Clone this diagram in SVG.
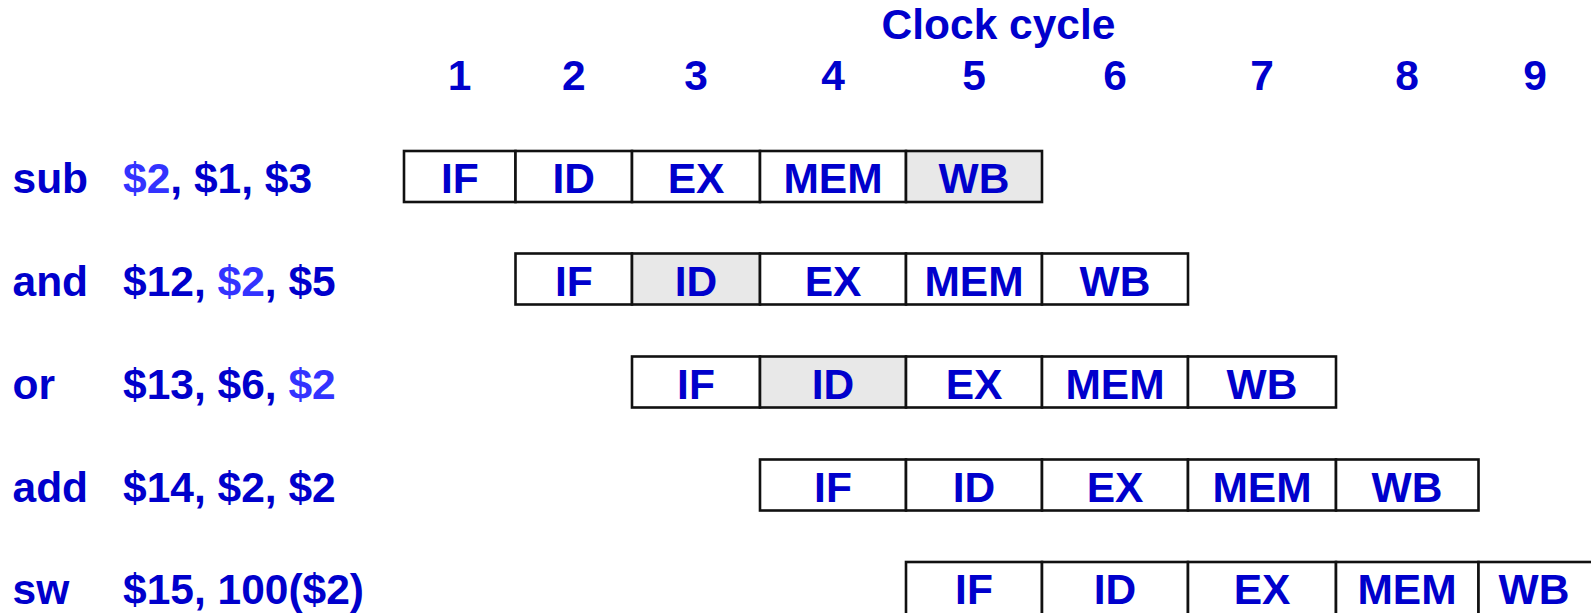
<svg xmlns="http://www.w3.org/2000/svg" width="1591" height="613" viewBox="0 0 1591 613">
  <style>
    .t { font-family: "Liberation Sans", Arial, sans-serif; font-weight: bold; font-size: 42.5px; fill: #0000CC; }
    .c { text-anchor: middle; }
    .hl { fill: #3333FF; }
    .cell { fill: #FFFFFF; stroke: #111111; stroke-width: 2.6; }
    .hot { fill: #E8E8E8; }
  </style>
  <rect width="1591" height="613" fill="#FFFFFF"/>

  <!-- header -->
  <g id="header">
    <text class="t c" x="998.5" y="38.5">Clock cycle</text>
    <text class="t c" x="459.6" y="89.5">1</text>
    <text class="t c" x="573.8" y="89.5">2</text>
    <text class="t c" x="696" y="89.5">3</text>
    <text class="t c" x="833" y="89.5">4</text>
    <text class="t c" x="974" y="89.5">5</text>
    <text class="t c" x="1115" y="89.5">6</text>
    <text class="t c" x="1262" y="89.5">7</text>
    <text class="t c" x="1407" y="89.5">8</text>
    <text class="t c" x="1535" y="89.5">9</text>
  </g>

  <!-- instruction labels -->
  <g id="labels">
    <text class="t" x="12.5" y="193">sub</text>
    <text class="t" x="123" y="193"><tspan class="hl">$2</tspan>, $1, $3</text>
    <text class="t" x="12.5" y="295.5">and</text>
    <text class="t" x="123" y="295.5">$12, <tspan class="hl">$2</tspan>, $5</text>
    <text class="t" x="12.5" y="398.5">or</text>
    <text class="t" x="123" y="398.5">$13, $6, <tspan class="hl">$2</tspan></text>
    <text class="t" x="12.5" y="501.5">add</text>
    <text class="t" x="123" y="501.5">$14, $2, $2</text>
    <text class="t" x="12.5" y="604">sw</text>
    <text class="t" x="123" y="604">$15, 100($2)</text>
  </g>

  <!-- pipeline row: sub -->
  <g id="row-sub">
    <rect class="cell" x="404" y="151" width="111.5" height="51"/>
    <rect class="cell" x="515.5" y="151" width="116.5" height="51"/>
    <rect class="cell" x="632" y="151" width="128" height="51"/>
    <rect class="cell" x="760" y="151" width="146" height="51"/>
    <rect class="cell hot" x="906" y="151" width="136" height="51"/>
    <text class="t c" x="459.8" y="193">IF</text>
    <text class="t c" x="573.8" y="193">ID</text>
    <text class="t c" x="696" y="193">EX</text>
    <text class="t c" x="833" y="193">MEM</text>
    <text class="t c" x="974" y="193">WB</text>
  </g>

  <!-- pipeline row: and -->
  <g id="row-and">
    <rect class="cell" x="515.5" y="253.5" width="116.5" height="51"/>
    <rect class="cell hot" x="632" y="253.5" width="128" height="51"/>
    <rect class="cell" x="760" y="253.5" width="146" height="51"/>
    <rect class="cell" x="906" y="253.5" width="136" height="51"/>
    <rect class="cell" x="1042" y="253.5" width="146" height="51"/>
    <text class="t c" x="573.8" y="295.5">IF</text>
    <text class="t c" x="696" y="295.5">ID</text>
    <text class="t c" x="833" y="295.5">EX</text>
    <text class="t c" x="974" y="295.5">MEM</text>
    <text class="t c" x="1115" y="295.5">WB</text>
  </g>

  <!-- pipeline row: or -->
  <g id="row-or">
    <rect class="cell" x="632" y="356.5" width="128" height="51"/>
    <rect class="cell hot" x="760" y="356.5" width="146" height="51"/>
    <rect class="cell" x="906" y="356.5" width="136" height="51"/>
    <rect class="cell" x="1042" y="356.5" width="146" height="51"/>
    <rect class="cell" x="1188" y="356.5" width="148" height="51"/>
    <text class="t c" x="696" y="398.5">IF</text>
    <text class="t c" x="833" y="398.5">ID</text>
    <text class="t c" x="974" y="398.5">EX</text>
    <text class="t c" x="1115" y="398.5">MEM</text>
    <text class="t c" x="1262" y="398.5">WB</text>
  </g>

  <!-- pipeline row: add -->
  <g id="row-add">
    <rect class="cell" x="760" y="459.5" width="146" height="51"/>
    <rect class="cell" x="906" y="459.5" width="136" height="51"/>
    <rect class="cell" x="1042" y="459.5" width="146" height="51"/>
    <rect class="cell" x="1188" y="459.5" width="148" height="51"/>
    <rect class="cell" x="1336" y="459.5" width="142.5" height="51"/>
    <text class="t c" x="833" y="501.5">IF</text>
    <text class="t c" x="974" y="501.5">ID</text>
    <text class="t c" x="1115" y="501.5">EX</text>
    <text class="t c" x="1262" y="501.5">MEM</text>
    <text class="t c" x="1407" y="501.5">WB</text>
  </g>

  <!-- pipeline row: sw (runs past the right and bottom edges) -->
  <g id="row-sw">
    <rect class="cell" x="906" y="562" width="136" height="54"/>
    <rect class="cell" x="1042" y="562" width="146" height="54"/>
    <rect class="cell" x="1188" y="562" width="148" height="54"/>
    <rect class="cell" x="1336" y="562" width="142.5" height="54"/>
    <rect class="cell" x="1478.5" y="562" width="116" height="54"/>
    <text class="t c" x="974" y="604">IF</text>
    <text class="t c" x="1115" y="604">ID</text>
    <text class="t c" x="1262" y="604">EX</text>
    <text class="t c" x="1407" y="604">MEM</text>
    <text class="t c" x="1534" y="604">WB</text>
  </g>

  <!-- no connectors in this chart -->
  <g id="connectors"/>
</svg>
